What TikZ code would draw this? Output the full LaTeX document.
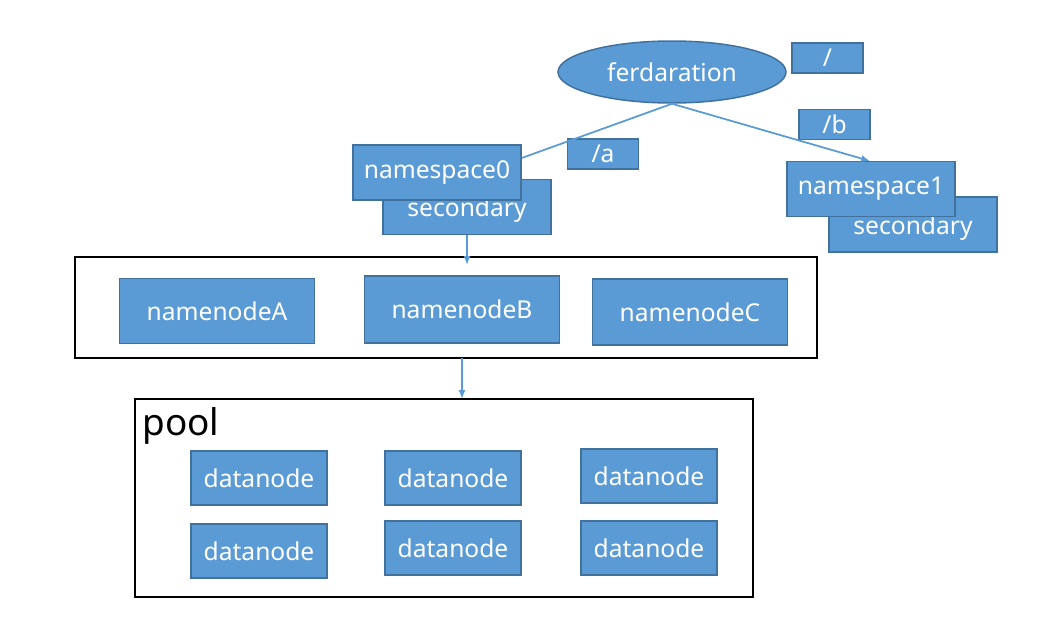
\documentclass[tikz,border=0pt]{standalone}
\usepackage{fontspec}
\setmainfont{Noto Sans}
\usetikzlibrary{arrows.meta,shapes.geometric}
\definecolor{boxblue}{HTML}{5B9BD5}
\definecolor{boxedge}{HTML}{41719C}
\begin{document}
\begin{tikzpicture}[font=\fontsize{14}{16}\selectfont]
  \path[use as bounding box] (0,0) rectangle (20.92,-12.4);

  \tikzset{
    blue box/.style={draw=boxedge,fill=boxblue,line width=.85pt,text=white,
      inner sep=0pt},
    ns box/.style={blue box,minimum width=3.36cm,minimum height=1.1cm},
    sec box/.style={ns box,text height=.5cm},
    tag/.style={blue box,minimum width=1.42cm,minimum height=.6cm},
    dn/.style={blue box,minimum width=2.72cm,minimum height=1.08cm},
    nn/.style={blue box,minimum width=3.9cm,minimum height=1.3cm},
    link/.style={draw=boxblue,line width=1pt},
    frame/.style={draw=black,line width=1.2pt}
  }

  % federation root and its mount points
  \node[blue box,ellipse,minimum width=4.56cm,minimum height=1.24cm]
    (fed) at (13.44,-1.44) {ferdaration};
  \node[tag] (root) at (16.55,-1.16) {/};
  \node[tag] (mntb) at (16.69,-2.49) {/b};

  % namespaces, each with a secondary behind it
  \node[sec box] (sec0) at (9.34,-4.14) {secondary};
  \node[ns box] (ns0) at (8.74,-3.45) {namespace0};
  \node[sec box] (sec1) at (18.26,-4.49) {secondary};
  \node[ns box] (ns1) at (17.42,-3.78) {namespace1};
  \node[tag] (mnta) at (12.06,-3.08) {/a};

  \draw[link] (fed.south) -- (ns0.east |- 0,-3.16);
  \draw[link,-{Latex[length=5pt,width=4pt]}] (fed.south) -- (17.4,-3.22);

  % namenode group
  \draw[frame] (1.5,-5.14) rectangle (16.34,-7.16);
  \node[nn] (nnA) at (4.34,-6.22) {namenodeA};
  \node[nn,minimum height=1.34cm] (nnB) at (9.24,-6.19) {namenodeB};
  \node[nn,minimum height=1.32cm] (nnC) at (13.8,-6.24) {namenodeC};
  \coordinate (grptop) at (9.34,-5.3);
  \draw[link,-{Latex[length=5pt,width=4pt]}] (sec0.south) -- (grptop);

  % block pool
  \draw[frame] (2.7,-7.98) rectangle (15.06,-11.94);
  \node[anchor=west,font=\fontsize{21}{24}\selectfont,inner sep=0pt]
    (pool) at (2.84,-8.52) {pool};
  \coordinate (grpbot) at (9.24,-7.16);
  \coordinate (pooltop) at (9.24,-7.98);
  \draw[link,-{Latex[length=5pt,width=4pt]}] (grpbot) -- (pooltop);

  \node[dn] (dn1) at (5.18,-9.56) {datanode};
  \node[dn] (dn2) at (9.06,-9.56) {datanode};
  \node[dn] (dn3) at (12.98,-9.52) {datanode};
  \node[dn] (dn4) at (5.18,-11.02) {datanode};
  \node[dn] (dn5) at (9.06,-10.96) {datanode};
  \node[dn] (dn6) at (12.98,-10.96) {datanode};
\end{tikzpicture}
\end{document}
